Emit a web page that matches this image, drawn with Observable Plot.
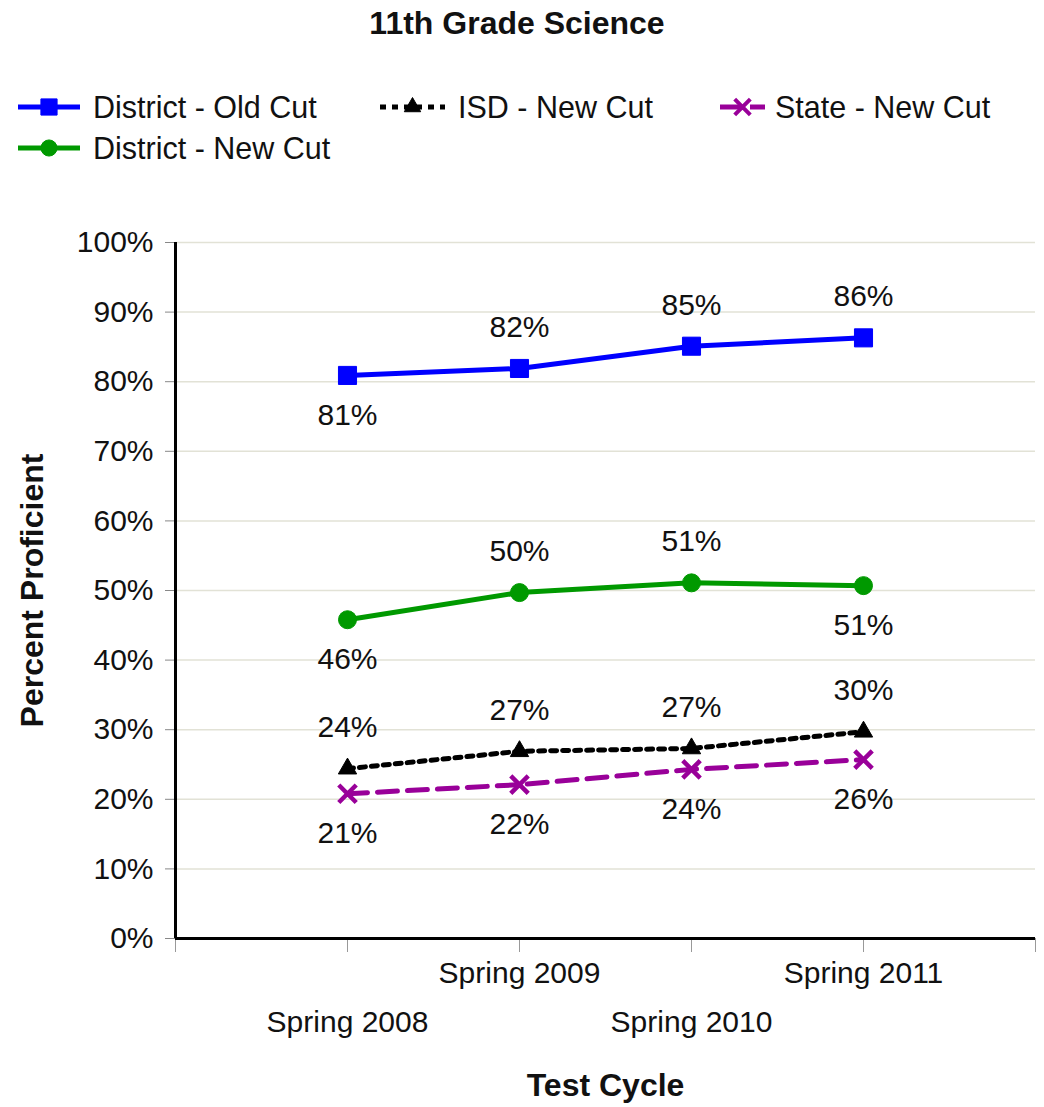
<!DOCTYPE html>
<html><head><meta charset="utf-8">
<script src="https://cdn.jsdelivr.net/npm/d3@7"></script>
<script src="https://cdn.jsdelivr.net/npm/@observablehq/plot@0.6"></script>
<style>
body{margin:0;background:#fff;font-family:"Liberation Sans",Arial,sans-serif;}
#head{display:block}
#chart svg{display:block}
</style></head><body>
<svg id="head" width="1044" height="180"></svg>
<div id="chart"></div>
<script>
// ---- data ----
const title = "11th Grade Science";
const categories = ["Spring 2008", "Spring 2009", "Spring 2010", "Spring 2011"];
const seriesNames = ["District - Old Cut", "District - New Cut", "ISD - New Cut", "State - New Cut"];
const districtOld = [80.9, 81.9, 85.1, 86.3];
const districtNew = [45.8, 49.7, 51.1, 50.7];
const isdNew = [24.4, 26.9, 27.3, 29.7];
const stateNew = [20.8, 22.1, 24.3, 25.7];
const yTicks = [0, 10, 20, 30, 40, 50, 60, 70, 80, 90, 100];
const yLabel = "Percent Proficient";
const xLabel = "Test Cycle";

// ---- styles (kept apart from data) ----
const FONT = '"Liberation Sans", Arial, sans-serif';
const styles = [
  {color: "#0000ff", dash: null, symbol: "square", r: 10.2, fill: true},
  {color: "#009900", dash: null, symbol: "circle", r: 9, fill: true},
  {color: "#000000", dash: "6,6", symbol: "triangle", r: 6.8, fill: true},
  {color: "#990099", dash: "20,10", symbol: "times", r: 8, fill: false}
];
// 1 = label below the point, -1 = above
const labelSide = [[1, -1, -1, -1], [1, -1, -1, 1], [-1, -1, -1, -1], [1, 1, 1, 1]];

const allSeries = [districtOld, districtNew, isdNew, stateNew];
const rows = [];
allSeries.forEach((vals, s) => vals.forEach((v, i) => rows.push({s, i, series: seriesNames[s], cat: categories[i], value: v})));

// ---- header: title + legend ----
const head = d3.select("#head").style("font-family", FONT);
head.append("text").attr("x", 517).attr("y", 23).attr("text-anchor", "middle")
  .attr("dominant-baseline", "central").attr("font-weight", "bold").attr("font-size", 32).attr("fill", "#111").text(title);
const legendItems = [
  {s: 0, x0: 18, x1: 80, tx: 93, y: 107},
  {s: 2, x0: 380, x1: 445, tx: 458, y: 107},
  {s: 3, x0: 720, x1: 765, tx: 775, y: 107},
  {s: 1, x0: 18, x1: 80, tx: 93, y: 148}
];
const symMap = {square: d3.symbolSquare, circle: d3.symbolCircle, triangle: d3.symbolTriangle, times: d3.symbolTimes};
legendItems.forEach(it => {
  const st = styles[it.s];
  const g = head.append("g");
  g.append("line").attr("x1", it.x0).attr("x2", it.x1).attr("y1", it.y).attr("y2", it.y)
    .attr("stroke", st.color).attr("stroke-width", 5).attr("stroke-dasharray", st.dash);
  const cx = (it.x0 + it.x1) / 2;
  g.append("path").attr("transform", `translate(${cx},${it.y})`)
    .attr("d", d3.symbol(symMap[st.symbol], Math.PI * st.r * st.r * 0.8)())
    .attr("fill", st.fill ? st.color : "none").attr("stroke", st.color).attr("stroke-width", st.fill ? 1 : 4);
  g.append("text").attr("x", it.tx).attr("y", it.y).attr("dominant-baseline", "central")
    .attr("font-size", 30.5).attr("fill", "#111").text(seriesNames[it.s]);
});

// ---- chart ----
const xOf = d => d.i + 1;
const marks = [
  Plot.gridY(yTicks, {stroke: "#e2e2d6", strokeOpacity: 1, strokeWidth: 1.5}),
  Plot.axisY(yTicks, {tickSize: 10, tickPadding: 12, tickFormat: d => d + "%", fontSize: 30, stroke: "#888", fill: "#111", label: null}),
  Plot.axisX(d3.range(0, categories.length + 2), {tickSize: 14, tickFormat: () => "", stroke: "#999", label: null}),
  Plot.text(categories, {x: (d, i) => i + 1, filter: (d, i) => i % 2 === 1, frameAnchor: "bottom", dy: 35, fontSize: 30, fill: "#111", lineAnchor: "middle"}),
  Plot.text(categories, {x: (d, i) => i + 1, filter: (d, i) => i % 2 === 0, frameAnchor: "bottom", dy: 84, fontSize: 30, fill: "#111", lineAnchor: "middle"}),
  Plot.text([xLabel], {frameAnchor: "bottom", dy: 147, fontSize: 32, fontWeight: "bold", fill: "#111", lineAnchor: "middle", textAnchor: "middle"}),
  Plot.text([yLabel], {frameAnchor: "left", dx: -143, rotate: -90, fontSize: 32, fontWeight: "bold", fill: "#111", lineAnchor: "middle", textAnchor: "middle"}),
  Plot.ruleX([0], {strokeWidth: 3, stroke: "#000"}),
  Plot.ruleY([0], {strokeWidth: 3, stroke: "#000"})
];
styles.forEach((st, s) => {
  const data = rows.filter(d => d.s === s);
  marks.push(Plot.line(data, {x: xOf, y: "value", stroke: st.color, strokeWidth: 5, strokeDasharray: st.dash}));
  marks.push(Plot.dot(data, {x: xOf, y: "value", symbol: st.symbol, r: st.r,
    fill: st.fill ? st.color : "none", stroke: st.color, strokeWidth: st.fill ? 1 : 4.5}));
  marks.push(Plot.text(data, {x: xOf, y: "value", filter: d => labelSide[s][d.i] === 1, text: d => Math.round(d.value) + "%", dy: 40, fontSize: 30, fill: "#111", lineAnchor: "middle"}));
  marks.push(Plot.text(data, {x: xOf, y: "value", filter: d => labelSide[s][d.i] === -1, text: d => Math.round(d.value) + "%", dy: -41, fontSize: 30, fill: "#111", lineAnchor: "middle"}));
});

const chart = Plot.plot({
  width: 1044, height: 927,
  marginTop: 62, marginBottom: 169, marginLeft: 175, marginRight: 9,
  style: {fontFamily: FONT, fontSize: "30px", background: "#fff", color: "#111"},
  x: {type: "linear", domain: [0, categories.length + 1], label: null},
  y: {domain: [0, 100], label: null},
  marks
});
document.getElementById("chart").appendChild(chart);
</script>
</body></html>
